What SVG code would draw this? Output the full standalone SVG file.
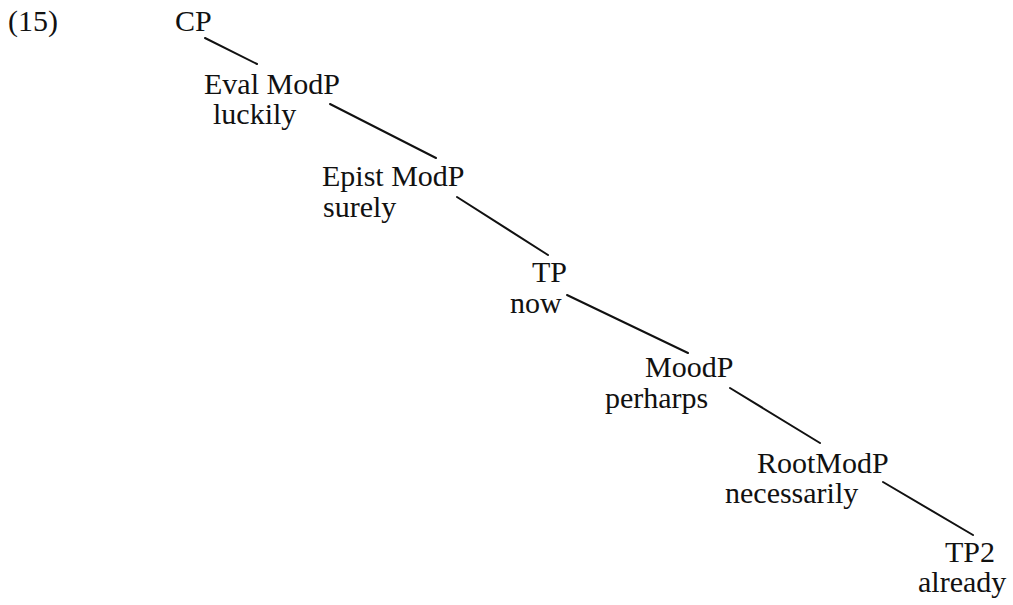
<svg xmlns="http://www.w3.org/2000/svg" width="1013" height="605" viewBox="0 0 1013 605">
  <style>
    text { font-family: "Liberation Serif", "Times New Roman", serif; font-size: 30px; fill: #111; }
    .edge { stroke: #111; stroke-width: 2; fill: none; stroke-linecap: round; }
  </style>
  <rect width="1013" height="605" fill="#fff"/>

  <text id="example-number" x="8" y="31">(15)</text>

  <!-- branches of the tree -->
  <g id="connectors">
    <line class="edge" x1="205" y1="38" x2="257" y2="64"/>
    <line class="edge" x1="330" y1="104" x2="436" y2="158"/>
    <line class="edge" x1="457" y1="197" x2="548" y2="255"/>
    <line class="edge" x1="567" y1="295" x2="688" y2="353"/>
    <line class="edge" x1="730" y1="388" x2="820" y2="443"/>
    <line class="edge" x1="883" y1="482" x2="973" y2="535"/>
  </g>

  <g id="node-cp">
    <text x="175" y="31">CP</text>
  </g>
  <g id="node-evalmodp">
    <text x="204" y="94">Eval ModP</text>
    <text x="213" y="124">luckily</text>
  </g>
  <g id="node-epistmodp">
    <text x="322" y="186">Epist ModP</text>
    <text x="323" y="217">surely</text>
  </g>
  <g id="node-tp">
    <text x="532" y="282">TP</text>
    <text x="510" y="313">now</text>
  </g>
  <g id="node-moodp">
    <text x="645" y="377">MoodP</text>
    <text x="605" y="408">perharps</text>
  </g>
  <g id="node-rootmodp">
    <text x="757" y="473">RootModP</text>
    <text x="725" y="503">necessarily</text>
  </g>
  <g id="node-tp2">
    <text x="945" y="562">TP2</text>
    <text x="918" y="592">already</text>
  </g>
</svg>
